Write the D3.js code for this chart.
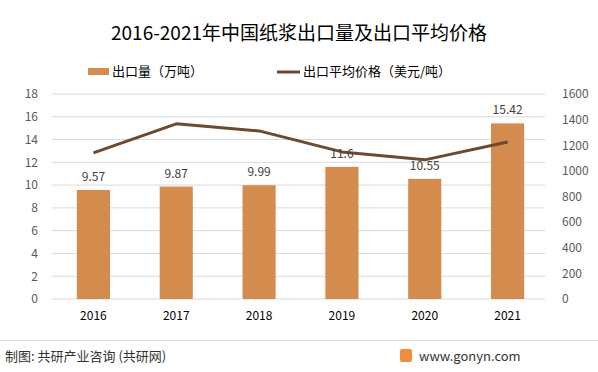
<!DOCTYPE html>
<html>
<head>
<meta charset="utf-8">
<script src="https://cdn.jsdelivr.net/npm/d3@7"></script>
<style>
  body { margin: 0; background: #fff; }
  text { font-family: "Noto Sans CJK SC", "Noto Sans", sans-serif; }
</style>
</head>
<body>
<div id="chart"></div>
<script>
const years = ['2016', '2017', '2018', '2019', '2020', '2021'];
const exportVolume = [9.57, 9.87, 9.99, 11.6, 10.55, 15.42];
const avgPrice = [1140, 1367, 1312, 1148, 1086, 1226];
const leftTicks = [0, 2, 4, 6, 8, 10, 12, 14, 16, 18];
const rightTicks = [0, 200, 400, 600, 800, 1000, 1200, 1400, 1600];

const width = 598;
const height = 372;
const margin = { top: 94, right: 50, bottom: 73, left: 52 };

const svg = d3.select('#chart')
  .append('svg')
  .attr('width', width)
  .attr('height', height);

const x = d3.scaleBand()
  .domain(years)
  .range([margin.left, width - margin.right + 1])
  .paddingInner(0.6)
  .paddingOuter(0.3);

const y = d3.scaleLinear()
  .domain([0, 18])
  .range([height - margin.bottom, margin.top]);

const y2 = d3.scaleLinear()
  .domain([0, 1600])
  .range([height - margin.bottom, margin.top]);

// gridlines
svg.append('g')
  .selectAll('line')
  .data(leftTicks)
  .enter()
  .append('line')
  .attr('x1', margin.left)
  .attr('x2', width - margin.right - 3)
  .attr('y1', d => y(d))
  .attr('y2', d => y(d))
  .attr('stroke', '#d9d9d9')
  .attr('stroke-width', 1);

// left axis
svg.append('g')
  .attr('transform', `translate(${margin.left - 14},0)`)
  .call(d3.axisLeft(y).tickValues(leftTicks).tickSize(0).tickPadding(0))
  .call(g => g.select('.domain').remove())
  .selectAll('text')
  .attr('font-size', '12px')
  .attr('fill', '#595959');

// right axis
svg.append('g')
  .attr('transform', `translate(${width - margin.right + 14},0)`)
  .call(d3.axisRight(y2).tickValues(rightTicks).tickFormat(d3.format('d')).tickSize(0).tickPadding(0))
  .call(g => g.select('.domain').remove())
  .selectAll('text')
  .attr('font-size', '12px')
  .attr('fill', '#595959');

// x axis labels
svg.append('g')
  .attr('transform', `translate(0,${height - margin.bottom + 8})`)
  .call(d3.axisBottom(x).tickSize(0).tickPadding(4))
  .call(g => g.select('.domain').remove())
  .selectAll('text')
  .attr('font-size', '12px')
  .attr('fill', '#000');

// bars
svg.selectAll('.bar')
  .data(exportVolume)
  .enter()
  .append('rect')
  .attr('x', (d, i) => x(years[i]))
  .attr('y', d => y(d))
  .attr('width', x.bandwidth())
  .attr('height', d => y(0) - y(d))
  .attr('fill', '#d48c4e');

// line
const line = d3.line()
  .x((d, i) => x(years[i]) + x.bandwidth() / 2)
  .y(d => y2(d));

svg.append('path')
  .datum(avgPrice)
  .attr('fill', 'none')
  .attr('stroke', '#6b4a30')
  .attr('stroke-width', 3)
  .attr('stroke-linejoin', 'round')
  .attr('d', line);

// bar labels
svg.selectAll('.label')
  .data(exportVolume)
  .enter()
  .append('text')
  .attr('x', (d, i) => x(years[i]) + x.bandwidth() / 2)
  .attr('y', d => y(d) - 9)
  .attr('text-anchor', 'middle')
  .attr('font-size', '12px')
  .attr('fill', '#404040')
  .text(d => d);

// title
svg.append('text')
  .attr('x', 299)
  .attr('y', 40)
  .attr('text-anchor', 'middle')
  .attr('font-size', '19px')
  .attr('fill', '#000')
  .text('2016-2021年中国纸浆出口量及出口平均价格');

// legend
svg.append('rect')
  .attr('x', 88)
  .attr('y', 68)
  .attr('width', 21)
  .attr('height', 7)
  .attr('fill', '#d48c4e');

svg.append('text')
  .attr('x', 112)
  .attr('y', 76)
  .attr('font-size', '13px')
  .attr('fill', '#000')
  .text('出口量（万吨）');

svg.append('line')
  .attr('x1', 277)
  .attr('x2', 300)
  .attr('y1', 72)
  .attr('y2', 72)
  .attr('stroke', '#6b4a30')
  .attr('stroke-width', 3);

svg.append('text')
  .attr('x', 303)
  .attr('y', 76)
  .attr('font-size', '13px')
  .attr('fill', '#000')
  .text('出口平均价格（美元/吨）');

// footer
svg.append('line')
  .attr('x1', 0)
  .attr('x2', width)
  .attr('y1', 340.5)
  .attr('y2', 340.5)
  .attr('stroke', '#e0e0e0');

svg.append('text')
  .attr('x', 5)
  .attr('y', 361)
  .attr('font-size', '13px')
  .attr('fill', '#333')
  .text('制图: 共研产业咨询 (共研网)');

svg.append('rect')
  .attr('x', 400)
  .attr('y', 349)
  .attr('width', 12)
  .attr('height', 13)
  .attr('rx', 2)
  .attr('fill', '#f08c3c');

svg.append('text')
  .attr('x', 419)
  .attr('y', 361)
  .attr('font-size', '13px')
  .attr('fill', '#333')
  .text('www.gonyn.com');
</script>
</body>
</html>
